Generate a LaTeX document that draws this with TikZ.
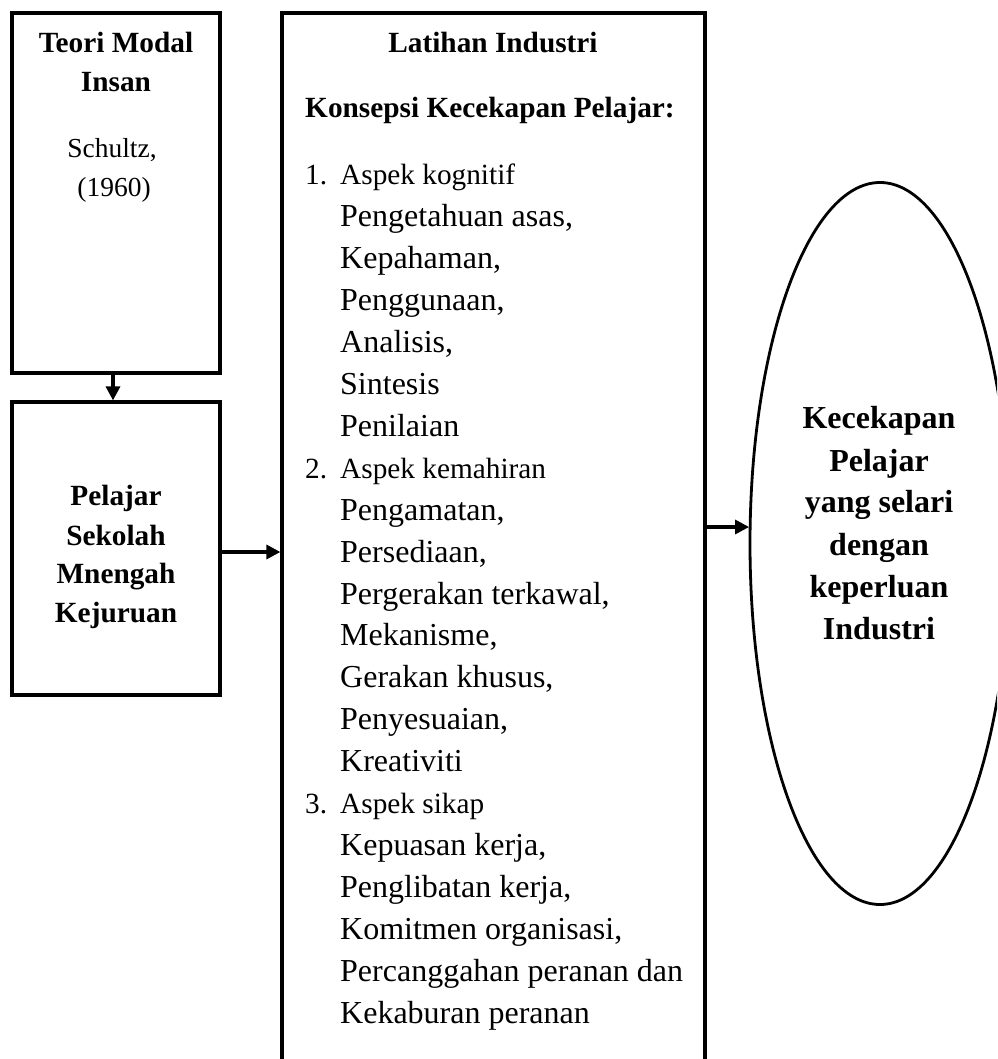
\documentclass[tikz,border=0pt]{standalone}
\usepackage{fontspec}
\setmainfont{Liberation Serif}
\usetikzlibrary{arrows.meta,shapes.geometric}
\tikzset{
  boxnode/.style={draw, line width=3.2pt, rectangle, inner sep=0pt},
  ovalnode/.style={draw, line width=2.8pt, ellipse, inner sep=0pt},
  arr/.style={draw, line width=3.2pt, -{Triangle[length=14pt,width=14pt]}},
  bt/.style={anchor=base, inner sep=0pt, font=\fontsize{32}{42}\selectfont\bfseries},
  bs/.style={anchor=base, inner sep=0pt, font=\fontsize{29.3}{40}\selectfont\bfseries},
  rs/.style={anchor=base, inner sep=0pt, font=\fontsize{27.5}{40}\selectfont},
  lt/.style={anchor=base west, inner sep=0pt, font=\fontsize{32}{42}\selectfont},
  st/.style={anchor=base west, inner sep=0pt, font=\fontsize{29.3}{42}\selectfont},
}
\begin{document}
\begin{tikzpicture}[x=1pt,y=-1pt]
\useasboundingbox (0,0) rectangle (997,1059);
\clip (0,0) rectangle (997,1059);
\fill[white] (0,0) rectangle (997,1059);
% boxes
\node[boxnode, minimum width=208pt, minimum height=360pt] (b1) at (116,193) {};
\node[boxnode, minimum width=208pt, minimum height=293pt] (b2) at (116,548.5) {};
\node[boxnode, minimum width=423pt, minimum height=1060pt] (b3) at (493.5,543) {};
\node[ovalnode, minimum width=260pt, minimum height=722pt] (el) at (880,543.5) {};
% box 1 text
\node[bs] (t1a) at (116,53) {Teori Modal};
\node[bs] (t1b) at (116,92) {Insan};
\node[rs] (t1c) at (112,158) {Schultz,};
\node[rs] (t1d) at (114,197) {(1960)};
% box 2 text
\node[bs] (t2a) at (116,505) {Pelajar};
\node[bs] (t2b) at (116,545) {Sekolah};
\node[bs] (t2c) at (116,583) {Mnengah};
\node[bs] (t2d) at (116,622) {Kejuruan};
% box 3 text
\node[bs] (h1) at (493,53) {Latihan Industri};
\node[bs, anchor=base west] (h2) at (305,118) {Konsepsi Kecekapan Pelajar:};
\node[st] (n1) at (305,185) {1.};
\node[st] (l1) at (340,185) {Aspek kognitif};
\node[lt] (l2) at (340,226.9) {Pengetahuan asas,};
\node[lt] (l3) at (340,268.8) {Kepahaman,};
\node[lt] (l4) at (340,310.7) {Penggunaan,};
\node[lt] (l5) at (340,352.6) {Analisis,};
\node[lt] (l6) at (340,394.5) {Sintesis};
\node[lt] (l7) at (340,436.4) {Penilaian};
\node[st] (n2) at (305,478.3) {2.};
\node[st] (l8) at (340,478.3) {Aspek kemahiran};
\node[lt] (l9) at (340,520.2) {Pengamatan,};
\node[lt] (l10) at (340,562.1) {Persediaan,};
\node[lt] (l11) at (340,604) {Pergerakan terkawal,};
\node[lt] (l12) at (340,645.9) {Mekanisme,};
\node[lt] (l13) at (340,687.8) {Gerakan khusus,};
\node[lt] (l14) at (340,729.7) {Penyesuaian,};
\node[lt] (l15) at (340,771.6) {Kreativiti};
\node[st] (n3) at (305,813.5) {3.};
\node[st] (l16) at (340,813.5) {Aspek sikap};
\node[lt] (l17) at (340,855.4) {Kepuasan kerja,};
\node[lt] (l18) at (340,897.3) {Penglibatan kerja,};
\node[lt] (l19) at (340,939.2) {Komitmen organisasi,};
\node[lt] (l20) at (340,981.1) {Percanggahan peranan dan};
\node[lt] (l21) at (340,1023) {Kekaburan peranan};
% ellipse text
\node[bt] (e1) at (879,428) {Kecekapan};
\node[bt] (e2) at (879,471) {Pelajar};
\node[bt] (e3) at (879,512) {yang selari};
\node[bt] (e4) at (879,555) {dengan};
\node[bt] (e5) at (879,597) {keperluan};
\node[bt] (e6) at (879,639) {Industri};
% connectors
\coordinate (ra) at (0,552);
\coordinate (rb) at (0,527);
\draw[arr] ([xshift=-3pt]b1.south) -- ([xshift=-3pt]b2.north);
\draw[arr] (b2.east |- ra) -- (b3.west |- ra);
\draw[arr] (b3.east |- rb) -- ([xshift=0.5pt]el.west |- rb);
\end{tikzpicture}
\end{document}
